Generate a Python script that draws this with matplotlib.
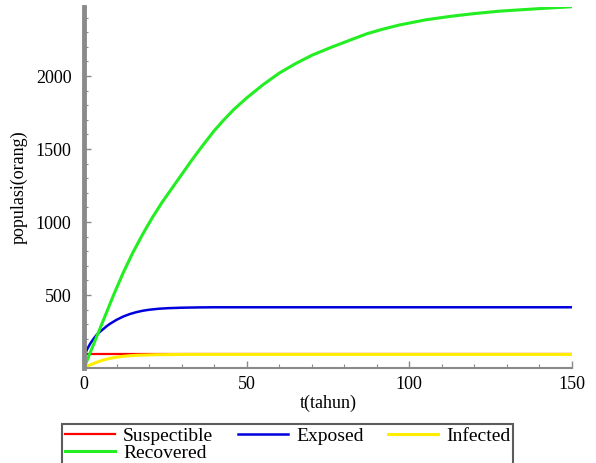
import matplotlib
matplotlib.use("Agg")
import matplotlib.pyplot as plt

# values
t_s = [0, 150]
suspectible = [96, 96]

t_e = [0, 0.5, 1, 2, 3, 4, 5, 6, 7, 8, 10, 12, 14, 16, 18, 20, 23, 26, 30, 35, 40, 150]
exposed = [77, 105, 130, 170, 202, 230, 250, 268, 287, 303, 330, 352, 369, 382, 392, 399,
           406, 410, 413, 415, 416, 416]

t_i = [0, 1, 2, 3, 4, 6, 8, 10, 12, 14, 16, 19, 22, 26, 30, 150]
infected = [5, 14, 22, 31, 40, 55, 66, 74, 80, 84, 87, 89, 91, 92, 93, 93]

t_r = [0, 3, 6, 9, 12, 15, 18, 21, 24, 27, 30, 33, 36, 40, 43, 46, 50, 55, 60, 65, 70,
       76, 82, 87, 92, 97, 105, 113, 120, 128, 140, 150]
recovered = [0, 165, 330, 495, 650, 790, 915, 1030, 1135, 1230, 1325, 1420, 1510, 1625,
             1700, 1770, 1850, 1940, 2020, 2085, 2142, 2197, 2248, 2290, 2322, 2350, 2385,
             2410, 2428, 2445, 2462, 2475]

xticks = [0, 50, 100, 150]
yticks = [500, 1000, 1500, 2000]

plt.rcParams['font.family'] = ['Liberation Serif', 'DejaVu Serif']
serif = {'family': 'Liberation Serif', 'size': 13}

fig = plt.figure(figsize=(5.96, 4.63), dpi=100)
ax = fig.add_axes([84 / 596, 1 - 368 / 463, (572 - 84) / 596, (368 - 7) / 463])

l_s, = ax.plot(t_s, suspectible, color='#ff0000', lw=1.6, label='Suspectible')
l_i, = ax.plot(t_i, infected, color='#ffee00', lw=2.2, label='Infected')
l_e, = ax.plot(t_e, exposed, color='#0000dd', lw=1.8, label='Exposed')
l_r, = ax.plot(t_r, recovered, color='#22ee22', lw=2.2, label='Recovered')

ax.set_xlim(0, 150)
ax.set_ylim(0, 2473)
ax.set_xticks(xticks)
ax.set_xticklabels(['0', '50', '100', '150'])
ax.set_yticks(yticks)
ax.set_xticks(range(0, 151, 10), minor=True)
ax.set_yticks(range(0, 2473, 100), minor=True)

for s in ['top', 'right']:
    ax.spines[s].set_visible(False)
ax.spines['left'].set_color('#8a8a8a')
ax.spines['left'].set_linewidth(3.5)
ax.spines['bottom'].set_color('#8a8a8a')
ax.spines['bottom'].set_linewidth(1.5)

ax.tick_params(axis='both', which='both', direction='in', colors='#8a8a8a',
               labelcolor='black', labelsize=13)
ax.tick_params(axis='both', which='major', length=5, width=1)
ax.tick_params(axis='both', which='minor', length=3, width=0.8)
ax.tick_params(axis='y', pad=9)
ax.tick_params(axis='x', pad=6)
for lab in ax.get_xticklabels() + ax.get_yticklabels():
    lab.set_fontfamily('Liberation Serif')

ax.set_xlabel('t(tahun)', fontdict=serif, labelpad=1)
ax.set_ylabel('populasi(orang)', fontdict=serif, labelpad=6)

leg = fig.legend([l_s, l_r, l_e, l_i], ['Suspectible', 'Recovered', 'Exposed', 'Infected'],
                 ncol=3, loc='upper left', bbox_to_anchor=(62 / 596, 1 - 424 / 463),
                 prop={'family': 'Liberation Serif', 'size': 14}, frameon=True,
                 fancybox=False, handlelength=2.6, handletextpad=0.4, columnspacing=1.25,
                 labelspacing=0.0, borderpad=0.15, borderaxespad=0)
leg.get_frame().set_edgecolor('#333333')
leg.get_frame().set_linewidth(1.5)

fig.savefig('out.png', dpi=100)
